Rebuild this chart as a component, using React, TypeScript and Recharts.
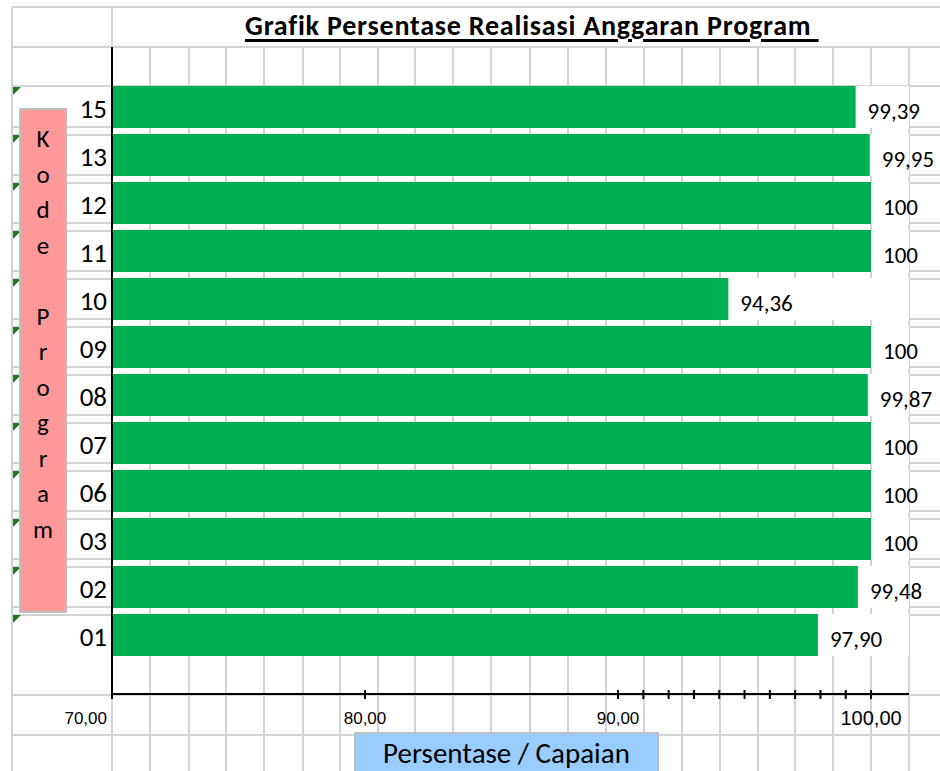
import { BarChart, Bar, XAxis, YAxis, LabelList } from 'recharts'

// kode program, top to bottom as in the sheet
const codes = ['15', '13', '12', '11', '10', '09', '08', '07', '06', '03', '02', '01']
const realisasi = [99.39, 99.95, 100, 100, 94.36, 100, 99.87, 100, 100, 100, 99.48, 97.9]

const xTicks = [70, 80, 90, 91, 92, 93, 94, 95, 96, 97, 98, 99, 100]
const xLabelled = [70, 80, 90, 100]

const yLetters = ['K', 'o', 'd', 'e', ' ', 'P', 'r', 'o', 'g', 'r', 'a', 'm']

const data = codes.map((c, i) => ({ code: c, value: realisasi[i] }))

const FONT = 'Carlito, Calibri, Lato, sans-serif'
const GRID = '#d4d4d4'

// spreadsheet cell lines behind the chart
const colX = [112, 150, 189, 226, 264, 303, 340, 378, 415, 453, 491, 530, 568, 606, 644, 682, 720, 758, 795, 833, 871, 909]
const rowY = [7, 47, 86, ...codes.slice(1).flatMap((_, i) => [127 + i * 48, 135 + i * 48]), 695, 735]

const fmtVal = (v: number) => (v === 100 ? '100' : v.toFixed(2).replace('.', ','))
const fmtAxis = (v: number) => v.toFixed(2).replace('.', ',')

const XTick = ({ x, y, payload }: any) => {
  const v = payload.value
  const first = v === 70
  return (
    <g>
      <line x1={x} x2={x} y1={first ? y : y - 4} y2={y + 5} stroke="#000" strokeWidth={2} />
      {xLabelled.includes(v) && (
        <text
          x={first ? x - 5 : x}
          y={y + 24}
          textAnchor={first ? 'end' : 'middle'}
          dominantBaseline="central"
          fontSize={v === 100 ? 20 : 17}
          fontFamily="'Liberation Sans', Arial, sans-serif"
          fill="#000"
        >
          {fmtAxis(v)}
        </text>
      )}
    </g>
  )
}

const ValueLabel = ({ x, y, width, height, value }: any) => (
  <text
    x={x + width + 12}
    y={y + height / 2 + 4}
    dominantBaseline="central"
    fontSize={23}
    fontFamily={FONT}
    fill="#000"
  >
    {fmtVal(value)}
  </text>
)

export default function App() {
  return (
    <div style={{ position: 'absolute', left: 0, top: 0, width: 940, height: 771, overflow: 'hidden', background: '#fff' }}>
      <svg width={940} height={771} style={{ position: 'absolute', left: 0, top: 0 }}>
        {rowY.map(y => (
          <line key={'r' + y} x1={12} x2={940} y1={y} y2={y} stroke={GRID} strokeWidth={2} />
        ))}
        <line x1={12} x2={12} y1={7} y2={771} stroke={GRID} strokeWidth={2} />
        <line x1={112} x2={112} y1={7} y2={47} stroke={GRID} strokeWidth={2} />
        {colX.map(x => (
          <line key={'c' + x} x1={x} x2={x} y1={47} y2={771} stroke={GRID} strokeWidth={2} />
        ))}
        {codes.map((c, i) => (
          <polygon key={'t' + c} points={`13,${87 + i * 48} 21,${87 + i * 48} 13,${95 + i * 48}`} fill="#1e7b1e" />
        ))}
      </svg>

      <div style={{ position: 'absolute', left: 0, top: 0 }}>
        <BarChart
          width={940}
          height={771}
          data={data}
          layout="vertical"
          margin={{ top: 47, right: 31, bottom: 0, left: 0 }}
        >
          <XAxis
            type="number"
            domain={[70, 101.5]}
            ticks={xTicks}
            interval={0}
            allowDataOverflow
            height={77}
            tickSize={0}
            tickMargin={0}
            tickLine={false}
            axisLine={{ stroke: '#000', strokeWidth: 2 }}
            tick={<XTick />}
          />
          <YAxis
            type="category"
            dataKey="code"
            width={112}
            padding={{ top: 36, bottom: 35 }}
            tickSize={0}
            tickMargin={5}
            tickLine={false}
            axisLine={{ stroke: '#000', strokeWidth: 2 }}
            tick={{ fill: '#000', fontSize: 27, fontFamily: FONT, dy: 1 }}
          />
          <Bar
            dataKey="value"
            fill="#00b050"
            barSize={42}
            background={{ fill: '#fff' }}
            isAnimationActive={false}
          >
            <LabelList dataKey="value" content={<ValueLabel />} />
          </Bar>
        </BarChart>
      </div>

      <div
        style={{
          position: 'absolute', left: 245, top: 9, fontFamily: FONT, fontWeight: 700, fontSize: 28, lineHeight: '34px',
          letterSpacing: 0.8, whiteSpace: 'pre', textDecoration: 'underline', textDecorationThickness: 3,
          textUnderlineOffset: 4, color: '#000',
        }}
      >
        {'Grafik Persentase Realisasi Anggaran Program '}
      </div>

      <div
        style={{
          position: 'absolute', left: 19, top: 108, width: 48, height: 505, boxSizing: 'border-box',
          background: '#ff9999', border: '2px solid #bfbfbf', paddingTop: 11, fontFamily: FONT, fontSize: 25, color: '#000',
        }}
      >
        {yLetters.map((ch, i) => (
          <div key={i} style={{ height: 35.5, lineHeight: '35.5px', textAlign: 'center', whiteSpace: 'pre' }}>{ch}</div>
        ))}
      </div>

      <div
        style={{
          position: 'absolute', left: 354, top: 732, width: 305, height: 50, boxSizing: 'border-box',
          background: '#99ccff', border: '2px solid #bfbfbf', fontFamily: FONT, fontSize: 29, color: '#000',
          textAlign: 'center', lineHeight: '38px',
        }}
      >
        Persentase / Capaian
      </div>
    </div>
  )
}
